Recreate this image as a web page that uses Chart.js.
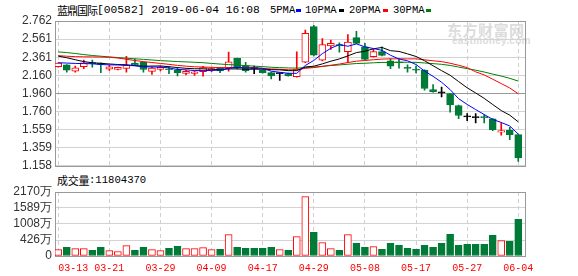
<!DOCTYPE html>
<html>
<head>
<meta charset="utf-8">
<script src="https://cdn.jsdelivr.net/npm/chart.js@4.4.1/dist/chart.umd.min.js"></script>
<style>
body { margin: 0; background: #fff; }
#wrap { position: relative; width: 578px; height: 276px; overflow: hidden; }
.t { position: absolute; white-space: pre; color: #000; line-height: 14px; }
.cjk { font-family: "Noto Sans CJK SC", sans-serif; font-size: 11px; letter-spacing: -1px; }
.mono { font-family: "Liberation Mono", monospace; }
.sq { position: absolute; width: 5px; height: 3px; top: 9px; }
.wm { position: absolute; color: #dcdcdc; font-weight: bold; white-space: pre; }
canvas { position: absolute; left: 0; }
</style>
</head>
<body>
<div id="wrap">
  <div class="wm" style="left:447px;top:19px;font-family:'Noto Sans CJK SC';font-size:15px;letter-spacing:0.5px">东方财富网</div>
  <div class="wm" style="left:452px;top:35px;font-family:'Liberation Sans';font-size:10px;letter-spacing:0.3px">eastmoney.com</div>

  <div class="t cjk" style="left:57px;top:3px">蓝鼎国际</div>
  <div class="t mono" style="left:97px;top:3px;font-size:11.3px">[00582] 2019-06-04 16:08</div>
  <div class="t mono" style="left:270px;top:3px;font-size:10.5px">5PMA</div>
  <div class="sq" style="left:296px;background:#0000ff"></div>
  <div class="t mono" style="left:305px;top:3px;font-size:10.5px">10PMA</div>
  <div class="sq" style="left:339px;background:#000000"></div>
  <div class="t mono" style="left:349px;top:3px;font-size:10.5px">20PMA</div>
  <div class="sq" style="left:383px;background:#ff0000"></div>
  <div class="t mono" style="left:393px;top:3px;font-size:10.5px">30PMA</div>
  <div class="sq" style="left:426px;background:#008000"></div>

  <div class="t cjk" style="left:57px;top:173px;letter-spacing:-0.3px">成交量</div>
  <div class="t mono" style="left:89px;top:173px;font-size:10.6px">:11804370</div>

  <canvas id="kline" width="578" height="176" style="top:0"></canvas>
  <canvas id="vol" width="578" height="96" style="top:180px"></canvas>
</div>
<script>
const dates = ["03-13","03-14","03-15","03-18","03-19","03-20","03-21","03-22","03-25","03-26",
  "03-27","03-28","03-29","04-01","04-02","04-03","04-04","04-08","04-09","04-10",
  "04-11","04-12","04-15","04-16","04-17","04-18","04-23","04-24","04-25","04-26",
  "04-29","04-30","05-02","05-03","05-06","05-07","05-08","05-09","05-10","05-14",
  "05-15","05-16","05-17","05-20","05-21","05-22","05-23","05-24","05-27","05-28",
  "05-29","05-30","05-31","06-03","06-04"];

const open = [2.255,2.277,2.207,2.255,2.300,2.296,2.229,2.225,2.238,2.295,
  2.306,2.203,2.225,2.232,2.222,2.180,2.180,2.200,2.215,2.245,
  2.240,2.348,2.268,2.236,2.215,2.190,2.179,2.180,2.145,2.307,
  2.700,2.329,2.485,2.500,2.422,2.577,2.477,2.366,2.422,2.322,
  2.308,2.240,2.220,2.218,2.003,1.967,1.959,1.826,1.701,1.693,
  1.700,1.677,1.530,1.552,1.503];
const high = [2.300,2.280,2.263,2.329,2.330,2.300,2.270,2.252,2.370,2.340,
  2.310,2.255,2.262,2.250,2.245,2.215,2.210,2.260,2.245,2.250,
  2.418,2.350,2.305,2.262,2.225,2.195,2.190,2.185,2.420,2.662,
  2.715,2.566,2.550,2.520,2.611,2.648,2.514,2.448,2.477,2.344,
  2.344,2.277,2.263,2.220,2.059,2.030,1.962,1.830,1.737,1.737,
  1.726,1.680,1.633,1.585,1.510];
const low = [2.250,2.196,2.196,2.233,2.250,2.189,2.214,2.220,2.195,2.270,
  2.195,2.170,2.210,2.178,2.153,2.165,2.160,2.150,2.200,2.190,
  2.207,2.230,2.195,2.178,2.185,2.120,2.105,2.150,2.140,2.300,
  2.375,2.320,2.448,2.418,2.300,2.510,2.330,2.360,2.375,2.233,
  2.240,2.196,2.188,1.996,1.975,1.922,1.752,1.681,1.659,1.633,
  1.633,1.548,1.496,1.448,1.207];
const close = [2.296,2.218,2.244,2.300,2.290,2.281,2.255,2.248,2.275,2.272,
  2.225,2.240,2.250,2.222,2.190,2.205,2.198,2.245,2.235,2.210,
  2.311,2.240,2.212,2.235,2.190,2.155,2.180,2.155,2.230,2.625,
  2.383,2.500,2.514,2.485,2.529,2.514,2.337,2.422,2.381,2.263,
  2.300,2.238,2.218,2.014,1.977,1.966,1.833,1.715,1.700,1.692,
  1.692,1.559,1.548,1.503,1.244];

const ma5 = [2.300,2.296,2.292,2.290,2.288,2.280,2.276,2.275,2.270,2.266,
  2.255,2.252,2.252,2.242,2.225,2.221,2.213,2.212,2.215,2.219,
  2.240,2.248,2.242,2.242,2.238,2.206,2.194,2.183,2.182,2.269,
  2.325,2.400,2.460,2.501,2.482,2.508,2.476,2.457,2.437,2.383,
  2.341,2.321,2.280,2.207,2.149,2.083,2.002,1.901,1.838,1.781,
  1.726,1.672,1.638,1.599,1.509];
const ma10 = [2.373,2.355,2.333,2.312,2.300,2.293,2.286,2.280,2.277,2.268,
  2.261,2.263,2.264,2.256,2.246,2.238,2.233,2.232,2.228,2.222,
  2.231,2.231,2.227,2.228,2.228,2.223,2.221,2.212,2.212,2.253,
  2.261,2.287,2.317,2.342,2.376,2.412,2.427,2.454,2.469,2.433,
  2.425,2.398,2.369,2.322,2.266,2.212,2.161,2.091,2.022,1.965,
  1.905,1.837,1.770,1.719,1.645];
const ma20 = [2.378,2.372,2.367,2.365,2.364,2.363,2.360,2.352,2.338,2.324,
  2.312,2.302,2.292,2.282,2.270,2.262,2.255,2.252,2.249,2.245,
  2.246,2.247,2.245,2.242,2.237,2.231,2.227,2.222,2.220,2.238,
  2.246,2.259,2.272,2.285,2.302,2.317,2.324,2.333,2.340,2.343,
  2.343,2.342,2.343,2.332,2.321,2.312,2.294,2.272,2.246,2.199,
  2.165,2.117,2.069,2.020,1.956];
const ma30 = [2.420,2.412,2.402,2.390,2.380,2.372,2.364,2.357,2.350,2.343,
  2.337,2.330,2.323,2.318,2.313,2.309,2.305,2.300,2.292,2.285,
  2.279,2.274,2.268,2.262,2.256,2.250,2.245,2.242,2.240,2.246,
  2.251,2.260,2.269,2.275,2.283,2.291,2.294,2.299,2.303,2.303,
  2.305,2.305,2.304,2.297,2.290,2.282,2.270,2.252,2.234,2.217,
  2.197,2.174,2.152,2.127,2.096];

// 成交量, 万股
const vol = [75,160,111,111,51,160,39,10,220,51,
  160,75,39,123,196,111,111,148,75,87,
  620,160,123,123,123,160,75,51,547,2000,
  704,329,111,51,620,305,160,184,87,305,
  232,123,87,232,160,305,632,232,269,269,
  269,595,402,377,1180];

const priceTicks = [2.762,2.561,2.361,2.160,1.960,1.760,1.559,1.359,1.158];
const volTicks = [-155,426,1008,1589,2170];
const volTickLabels = ["0","426万","1008万","1589万","2170万"];
const gridIdx = [0,6,12,18,24,30,36,42,48,54];

const UP = "#ff0000";
const DOWN = "#007a37";

function candleColor(i) {
  if (Math.abs(close[i] - open[i]) < 0.002) return "#000000";
  return close[i] > open[i] ? UP : DOWN;
}
function bodyFill(i) {
  const c = candleColor(i);
  return c === UP ? "#ffffff" : c;
}
function volColor(i) {
  return close[i] > open[i] ? UP : DOWN;
}

const idx = dates.map((d, i) => i);

// grey box round the plot area
const frame = {
  id: "frame",
  beforeDatasetsDraw(chart) {
    const a = chart.chartArea;
    const ctx = chart.ctx;
    ctx.save();
    ctx.strokeStyle = "#999999";
    ctx.lineWidth = 1;
    ctx.strokeRect(Math.round(a.left) + 0.5, Math.round(a.top) + 0.5,
      Math.round(a.right - a.left), Math.round(a.bottom - a.top));
    ctx.restore();
  }
};

function maLine(label, arr, color) {
  return {
    type: "line",
    label: label,
    data: arr.map((v, i) => ({ x: i, y: v })),
    borderColor: color,
    borderWidth: 1,
    pointRadius: 0,
    tension: 0,
    order: 0
  };
}

const xScale = {
  type: "linear",
  min: -0.38,
  max: 54.79,
  offset: false,
  afterBuildTicks: s => { s.ticks = gridIdx.map(v => ({ value: v })); },
  grid: { color: "#d0d0d0", drawTicks: false, offset: false },
  border: { display: false, dash: [4, 3] }
};

new Chart(document.getElementById("kline"), {
  type: "bar",
  data: {
    datasets: [
      maLine("5PMA", ma5, "#0000ff"),
      maLine("10PMA", ma10, "#000000"),
      maLine("20PMA", ma20, "#ff0000"),
      maLine("30PMA", ma30, "#008000"),
      {
        label: "body",
        data: idx.map(i => ({ x: i, y: [open[i], close[i]] })),
        backgroundColor: idx.map(bodyFill),
        borderColor: idx.map(candleColor),
        borderWidth: 1,
        borderSkipped: false,
        barThickness: 7,
        minBarLength: 1,
        grouped: false,
        order: 1
      },
      {
        label: "wick",
        data: idx.map(i => ({ x: i, y: [low[i], high[i]] })),
        backgroundColor: idx.map(candleColor),
        borderWidth: 0,
        barThickness: 1,
        grouped: false,
        order: 2
      }
    ]
  },
  options: {
    responsive: false,
    animation: false,
    events: [],
    layout: { padding: { left: 0, right: 53, top: 21, bottom: 10 } },
    plugins: { legend: { display: false }, tooltip: { enabled: false } },
    scales: {
      x: Object.assign({}, xScale, {
        ticks: { display: false },
        afterFit: s => { s.height = 0; }
      }),
      y: {
        min: 1.158,
        max: 2.762,
        afterBuildTicks: s => { s.ticks = priceTicks.map(v => ({ value: v })); },
        ticks: {
          autoSkip: false,
          callback: v => v.toFixed(3),
          color: "#333333",
          font: { family: "Liberation Sans", size: 12 },
          padding: 3
        },
        grid: {
          color: c => (c.tick && Math.abs(c.tick.value - 1.96) < 0.001) ? "#999999" : "#d3d3d3",
          drawTicks: false
        },
        border: { display: false },
        afterFit: s => { s.width = 55; }
      }
    }
  },
  plugins: [frame]
});

new Chart(document.getElementById("vol"), {
  type: "bar",
  data: {
    datasets: [{
      label: "成交量",
      data: idx.map(i => ({ x: i, y: vol[i] })),
      base: -155,
      backgroundColor: idx.map(i => volColor(i) === UP ? "#ffffff" : DOWN),
      borderColor: idx.map(volColor),
      borderWidth: 1,
      borderSkipped: false,
      barThickness: 7,
      grouped: false
    }]
  },
  options: {
    responsive: false,
    animation: false,
    events: [],
    layout: { padding: { left: 0, right: 53, top: 12, bottom: 0 } },
    plugins: { legend: { display: false }, tooltip: { enabled: false } },
    scales: {
      x: Object.assign({}, xScale, {
        ticks: {
          autoSkip: false,
          maxRotation: 0,
          padding: 6,
          color: "#ff0000",
          font: { family: "Liberation Mono", size: 10 },
          callback: v => v === 0 ? "     " + dates[v] : dates[v]
        },
        afterFit: s => { s.height = 20; }
      }),
      y: {
        min: -155,
        max: 2170,
        afterBuildTicks: s => { s.ticks = volTicks.map(v => ({ value: v })); },
        ticks: {
          autoSkip: false,
          callback: (v, i) => volTickLabels[i],
          color: "#333333",
          font: { family: "Liberation Sans", size: 12 },
          padding: 3
        },
        grid: { color: "#d3d3d3", drawTicks: false },
        border: { display: false },
        afterFit: s => { s.width = 55; }
      }
    }
  },
  plugins: [frame]
});
</script>
</body>
</html>
